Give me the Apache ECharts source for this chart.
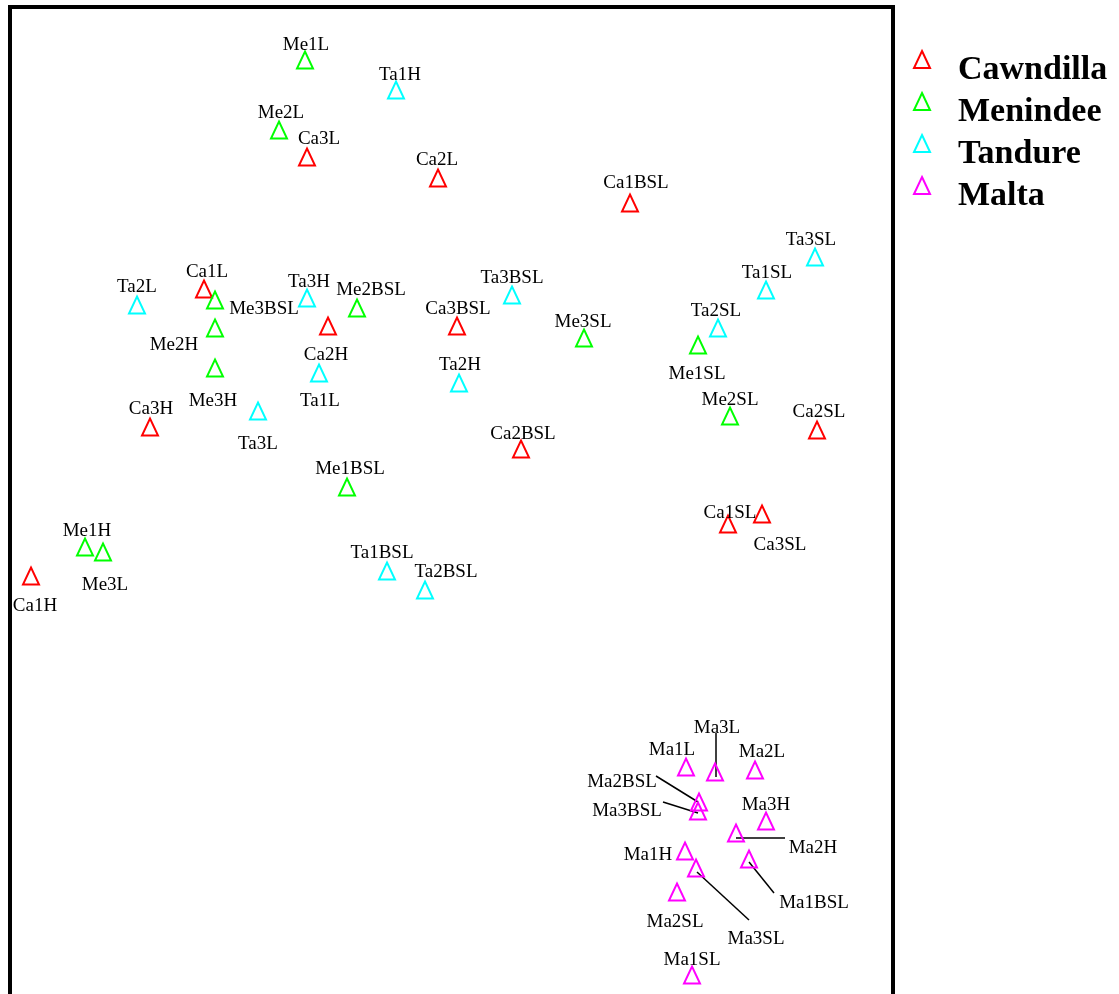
<!DOCTYPE html>
<html>
<head>
<meta charset="utf-8">
<script src="https://cdn.jsdelivr.net/npm/echarts@6/dist/echarts.min.js"></script>
<style>
  html, body { margin: 0; padding: 0; background: #fff; }
  #chart { width: 1119px; height: 994px; }
</style>
</head>
<body>
<div id="chart"></div>
<script>
// ordination scores (arbitrary units, y grows downward)
const siteNames = ['Cawndilla', 'Menindee', 'Tandure', 'Malta']
const siteColors = ['#ff0000', '#00ff00', '#00ffff', '#ff00ff']

const caNames = ['Ca3L', 'Ca2L', 'Ca1BSL', 'Ca1L', 'Ca2H', 'Ca3BSL', 'Ca3H', 'Ca2SL', 'Ca2BSL', 'Ca1SL', 'Ca3SL', 'Ca1H']
const caX = [307, 438, 630, 204, 328, 457, 150, 817, 521, 728, 762, 31]
const caY = [157, 178, 203, 289, 326, 326, 427, 430, 449, 524, 514, 576]

const meNames = ['Me1L', 'Me2L', 'Me3BSL', 'Me2BSL', 'Me2H', 'Me3H', 'Me3SL', 'Me1SL', 'Me2SL', 'Me1BSL', 'Me1H', 'Me3L']
const meX = [305, 279, 215, 357, 215, 215, 584, 698, 730, 347, 85, 103]
const meY = [60, 130, 300, 308, 328, 368, 338, 345, 416, 487, 547, 552]

const taNames = ['Ta1H', 'Ta2L', 'Ta3H', 'Ta3BSL', 'Ta3SL', 'Ta1SL', 'Ta2SL', 'Ta1L', 'Ta2H', 'Ta3L', 'Ta1BSL', 'Ta2BSL']
const taX = [396, 137, 307, 512, 815, 766, 718, 319, 459, 258, 387, 425]
const taY = [90, 305, 298, 295, 257, 290, 328, 373, 383, 411, 571, 590]

const maNames = ['Ma1L', 'Ma3L', 'Ma2L', 'Ma2BSL', 'Ma3BSL', 'Ma3H', 'Ma2H', 'Ma1H', 'Ma1BSL', 'Ma3SL', 'Ma2SL', 'Ma1SL']
const maX = [686, 715, 755, 699, 698, 766, 736, 685, 749, 696, 677, 692]
const maY = [767, 772, 770, 802, 811, 821, 833, 851, 859, 868, 892, 975]

// where each label sits relative to its point (px)
const labelOffset = {
    Ca3L: [12, -18], Ca2L: [-1, -18], Ca1BSL: [6, -20], Ca1L: [3, -17], Ca2H: [-2, 29], Ca3BSL: [1, -17],
    Ca3H: [1, -18], Ca2SL: [2, -18], Ca2BSL: [2, -15], Ca1SL: [2, -11], Ca3SL: [18, 31], Ca1H: [4, 30],
    Me1L: [1, -15], Me2L: [2, -17], Me3BSL: [49, 9], Me2BSL: [14, -18], Me2H: [-41, 17], Me3H: [-2, 33],
    Me3SL: [-1, -16], Me1SL: [-1, 29], Me2SL: [0, -16], Me1BSL: [3, -18], Me1H: [2, -16], Me3L: [2, 33],
    Ta1H: [4, -15], Ta2L: [0, -18], Ta3H: [2, -16], Ta3BSL: [0, -17], Ta3SL: [-4, -17], Ta1SL: [1, -17],
    Ta2SL: [-2, -17], Ta1L: [1, 28], Ta2H: [1, -18], Ta3L: [0, 33], Ta1BSL: [-5, -18], Ta2BSL: [21, -18],
    Ma1L: [-14, -17], Ma3L: [2, -44], Ma2L: [7, -18], Ma2BSL: [-77, -20], Ma3BSL: [-71, 0], Ma3H: [0, -16],
    Ma2H: [77, 15], Ma1H: [-37, 4], Ma1BSL: [65, 44], Ma3SL: [60, 71], Ma2SL: [-2, 30], Ma1SL: [0, -15]
}
// leader lines: start and end, relative to the point (px)
const leaderOffset = {
    Ma3L: [[1, -39], [1, 5]],
    Ma2BSL: [[-43, -26], [-1, 0]],
    Ma3BSL: [[-35, -9], [0, 2]],
    Ma2H: [[0, 5], [49, 5]],
    Ma1BSL: [[0, 3], [25, 34]],
    Ma3SL: [[1, 4], [53, 52]]
}

const groups = [
    [caNames, caX, caY],
    [meNames, meX, meY],
    [taNames, taX, taY],
    [maNames, maX, maY]
]

const myChart = echarts.init(document.getElementById('chart'))

function buildData(names, xs, ys) {
    return names.map((n, i) => ({
        name: n,
        value: [xs[i], ys[i]],
        label: { offset: labelOffset[n] }
    }))
}

const frameLine = { show: true, lineStyle: { color: '#000', width: 4, cap: 'square' } }

let leaderData = []
maNames.forEach((n, i) => {
    if (leaderOffset[n]) leaderData.push({ name: n, value: [maX[i], maY[i]] })
})

let series = groups.map((g, i) => ({
    name: siteNames[i],
    type: 'scatter',
    symbol: 'triangle',
    symbolSize: [16, 17],
    itemStyle: {
        color: 'rgba(0,0,0,0)',
        borderColor: siteColors[i],
        borderWidth: 2,
        opacity: 1
    },
    label: {
        show: true,
        position: 'inside',
        formatter: '{b}',
        fontFamily: 'Liberation Serif',
        fontSize: 19,
        color: '#000'
    },
    emphasis: { disabled: true },
    z: 3,
    data: buildData(g[0], g[1], g[2])
}))

series.push({
    name: 'leaders',
    type: 'custom',
    silent: true,
    z: 2,
    renderItem: function (params, api) {
        const p = api.coord([api.value(0), api.value(1)])
        const off = leaderOffset[leaderData[params.dataIndex].name]
        return {
            type: 'line',
            shape: {
                x1: p[0] + off[0][0], y1: p[1] + off[0][1],
                x2: p[0] + off[1][0], y2: p[1] + off[1][1]
            },
            style: { stroke: '#000', lineWidth: 1.5 }
        }
    },
    data: leaderData
})

myChart.setOption({
    animation: false,
    grid: {
        left: 10,
        top: 7,
        right: 226,
        bottom: 0,
        show: false
    },
    xAxis: {
        type: 'value',
        position: 'top',
        min: 10,
        max: 893,
        axisLine: frameLine,
        axisTick: { show: false },
        axisLabel: { show: false },
        splitLine: { show: false }
    },
    yAxis: [
        {
            type: 'value',
            min: 7,
            max: 994,
            inverse: true,
            position: 'left',
            axisLine: frameLine,
            axisTick: { show: false },
            axisLabel: { show: false },
            splitLine: { show: false }
        },
        {
            type: 'value',
            min: 7,
            max: 994,
            inverse: true,
            position: 'right',
            axisLine: frameLine,
            axisTick: { show: false },
            axisLabel: { show: false },
            splitLine: { show: false }
        }
    ],
    legend: {
        orient: 'vertical',
        left: 913,
        top: 50,
        padding: 0,
        itemWidth: 16,
        itemHeight: 39,
        itemGap: 1,
        // triangle sits in the upper part of the icon box so the text hangs a little lower
        icon: 'path://M8,0 L16,17 L0,17 Z M8,39 L8,39',
        textStyle: {
            fontFamily: 'Liberation Serif',
            fontWeight: 'bold',
            fontSize: 34,
            lineHeight: 34,
            color: '#000',
            padding: [0, 0, 0, 23]
        },
        data: siteNames.map((s, i) => ({
            name: s,
            itemStyle: { color: 'rgba(0,0,0,0)', borderColor: siteColors[i], borderWidth: 2 }
        }))
    },
    series: series
})
</script>
</body>
</html>
